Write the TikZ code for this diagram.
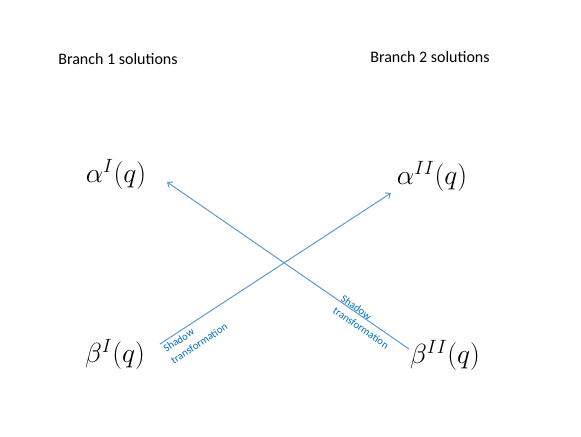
\documentclass[tikz,border=0pt]{standalone}
\usepackage{fontspec}
\setmainfont{Carlito}
\usetikzlibrary{arrows.meta}
\definecolor{shadowline}{RGB}{91,155,213}
\definecolor{shadowtext}{RGB}{0,112,192}

\begin{document}
\begin{tikzpicture}[x=0.75pt,y=-0.75pt,>={Straight Barb[length=3pt,width=5pt]},line cap=round,
  branch/.style={font=\fontsize{12}{14}\selectfont},
  sol/.style={font=\fontsize{20}{24}\selectfont,inner sep=1pt},
  shadowarrow/.style={->,shadowline,line width=0.75pt},
  shadowlabel/.style={font=\fontsize{8}{10.5}\selectfont,text=shadowtext,align=left,inner sep=1pt}]
\useasboundingbox (0,0) rectangle (581,436);
% branch headings
\node[branch] (br1) at (118,59) {Branch 1 solutions};
\node[branch] (br2) at (430,57) {Branch 2 solutions};
% solutions
\node[sol] (aI) at (116,174) {$\alpha^{I}(q)$};
\node[sol] (aII) at (432,176) {$\alpha^{II}(q)$};
\node[sol] (bI) at (115,354) {$\beta^{I}(q)$};
\node[sol] (bII) at (445,355) {$\beta^{II}(q)$};
% shadow transformations
\coordinate (s1) at ([shift={(45,-10)}]bI);
\coordinate (e1) at ([shift={(-41,17)}]aII);
\coordinate (s2) at ([shift={(-36,-6)}]bII);
\coordinate (e2) at ([shift={(51,8)}]aI);
\draw[shadowarrow] (s1) -- (e1);
\draw[shadowarrow] (s2) -- (e2);
\node[shadowlabel,rotate=33.2,anchor=north west] (t1) at ([shift={(0,2)}]s1) {Shadow\\transformation};
\node[shadowlabel,rotate=-34.6] (t2) at (365,322) {Shadow\\transformation};
\end{tikzpicture}
\end{document}
